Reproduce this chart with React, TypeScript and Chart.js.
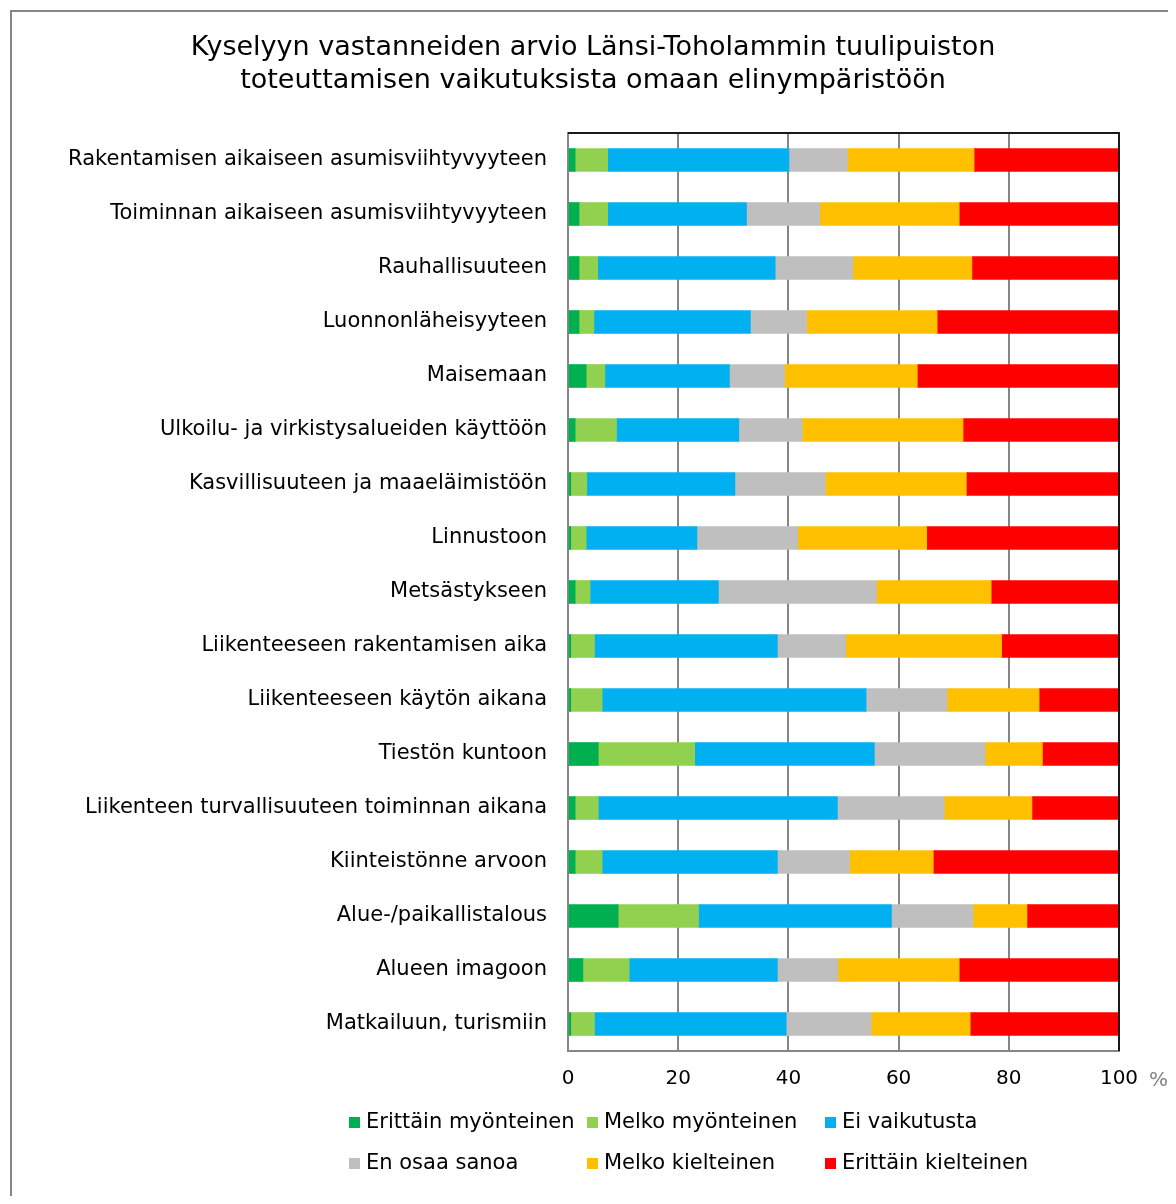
import React, { useEffect, useRef } from "react";
import { Chart, registerables } from "chart.js";

Chart.register(...registerables);

const FONT = "DejaVu Sans";

const titleLines = [
  "Kyselyyn vastanneiden arvio Länsi-Toholammin tuulipuiston",
  "toteuttamisen vaikutuksista omaan elinympäristöön",
];

const categories = [
  "Rakentamisen aikaiseen asumisviihtyvyyteen",
  "Toiminnan aikaiseen asumisviihtyvyyteen",
  "Rauhallisuuteen",
  "Luonnonläheisyyteen",
  "Maisemaan",
  "Ulkoilu- ja virkistysalueiden käyttöön",
  "Kasvillisuuteen ja maaeläimistöön",
  "Linnustoon",
  "Metsästykseen",
  "Liikenteeseen rakentamisen aika",
  "Liikenteeseen käytön aikana",
  "Tiestön kuntoon",
  "Liikenteen turvallisuuteen toiminnan aikana",
  "Kiinteistönne arvoon",
  "Alue-/paikallistalous",
  "Alueen imagoon",
  "Matkailuun, turismiin",
];

const erittainMyonteinen = [1.3, 2.0, 2.0, 2.0, 3.3, 1.3, 0.5, 0.5, 1.3, 0.5, 0.5, 5.5, 1.3, 1.3, 9.1, 2.7, 0.5];
const melkoMyonteinen = [5.9, 5.2, 3.4, 2.7, 3.4, 7.5, 2.9, 2.8, 2.7, 4.3, 5.7, 17.5, 4.2, 4.9, 14.6, 8.4, 4.3];
const eiVaikutusta = [32.9, 25.2, 32.2, 28.4, 22.6, 22.2, 26.9, 20.1, 23.3, 33.2, 47.9, 32.6, 43.4, 31.8, 35.0, 26.9, 34.8];
const enOsaaSanoa = [10.6, 13.3, 14.1, 10.2, 10.0, 11.5, 16.4, 18.3, 28.7, 12.4, 14.7, 20.1, 19.4, 13.1, 14.8, 11.0, 15.4];
const melkoKielteinen = [23.0, 25.3, 21.6, 23.7, 24.1, 29.2, 25.6, 23.4, 20.8, 28.3, 16.7, 10.4, 15.9, 15.2, 9.8, 22.0, 18.0];
const erittainKielteinen = [26.3, 29.0, 26.7, 33.0, 36.6, 28.3, 27.7, 34.9, 23.2, 21.3, 14.5, 13.9, 15.8, 33.7, 16.7, 29.0, 27.0];

const seriesNames = [
  "Erittäin myönteinen",
  "Melko myönteinen",
  "Ei vaikutusta",
  "En osaa sanoa",
  "Melko kielteinen",
  "Erittäin kielteinen",
];
const seriesValues = [
  erittainMyonteinen,
  melkoMyonteinen,
  eiVaikutusta,
  enOsaaSanoa,
  melkoKielteinen,
  erittainKielteinen,
];
const seriesColors = ["#00B050", "#92D050", "#00B0F0", "#BFBFBF", "#FFC000", "#FF0000"];

const xMin = 0;
const xMax = 100;
const xStep = 20;
const unitLabel = "%";

const decorPlugin = {
  id: "decor",
  afterDraw(chart: any) {
    const { ctx, chartArea: a } = chart;
    ctx.save();
    // outer chart frame (top & left visible)
    ctx.strokeStyle = "#868686";
    ctx.lineWidth = 2;
    ctx.beginPath();
    ctx.moveTo(3, chart.height + 5);
    ctx.lineTo(3, 3);
    ctx.lineTo(chart.width + 5, 3);
    ctx.stroke();
    // title
    ctx.font = `27px "${FONT}"`;
    ctx.fillStyle = "#000";
    ctx.textAlign = "center";
    ctx.textBaseline = "middle";
    titleLines.forEach((line, i) => {
      ctx.fillText(line, 585, 40 + i * 33);
    });
    // plot area top/right border
    ctx.strokeStyle = "#1a1a1a";
    ctx.lineWidth = 2;
    ctx.beginPath();
    ctx.moveTo(a.left, a.top);
    ctx.lineTo(a.right, a.top);
    ctx.lineTo(a.right, a.bottom);
    ctx.stroke();
    // unit label
    ctx.font = `20px "${FONT}"`;
    ctx.fillStyle = "#808080";
    ctx.textAlign = "left";
    ctx.textBaseline = "middle";
    ctx.fillText(unitLabel, a.right + 30, a.bottom + 30);
    // legend
    ctx.font = `21px "${FONT}"`;
    chart.data.datasets.forEach((ds: any, i: number) => {
      const col = i % 3;
      const row = Math.floor(i / 3);
      const x0 = a.left - 219 + col * 238;
      const y = a.bottom + 72 + row * 41;
      ctx.fillStyle = ds.backgroundColor;
      ctx.fillRect(x0, y - 6, 11, 11);
      ctx.fillStyle = "#000";
      ctx.fillText(ds.label, x0 + 17, y);
    });
    ctx.restore();
  },
};

export default function App() {
  const ref = useRef<HTMLCanvasElement | null>(null);
  useEffect(() => {
    if (!ref.current) return;
    const chart = new Chart(ref.current, {
      type: "bar",
      data: {
        labels: categories,
        datasets: seriesNames.map((name, i) => ({
          label: name,
          data: seriesValues[i],
          backgroundColor: seriesColors[i],
          borderWidth: 0,
          barThickness: 23,
        })),
      },
      options: {
        indexAxis: "y",
        responsive: true,
        maintainAspectRatio: false,
        animation: false,
        layout: { padding: { top: 125, left: 0, right: 49, bottom: 89 } },
        plugins: {
          legend: { display: false },
          tooltip: { enabled: false },
          title: { display: false },
        },
        scales: {
          x: {
            stacked: true,
            min: xMin,
            max: xMax,
            ticks: {
              stepSize: xStep,
              color: "#000",
              font: { family: FONT, size: 20 },
              padding: 16,
            },
            grid: { color: "#868686", lineWidth: 2, drawTicks: false },
            border: { color: "#868686", width: 2 },
          },
          y: {
            stacked: true,
            ticks: {
              color: "#000",
              font: { family: FONT, size: 21 },
              padding: 21,
            },
            grid: { display: false, drawTicks: false },
            border: { color: "#868686", width: 2 },
            afterFit: (scale: any) => {
              scale.width = 560;
            },
          },
        },
      },
      plugins: [decorPlugin],
    });
    return () => chart.destroy();
  }, []);
  return (
    <div style={{ position: "relative", width: 1160, height: 1188, background: "#fff" }}>
      <canvas ref={ref} />
    </div>
  );
}
